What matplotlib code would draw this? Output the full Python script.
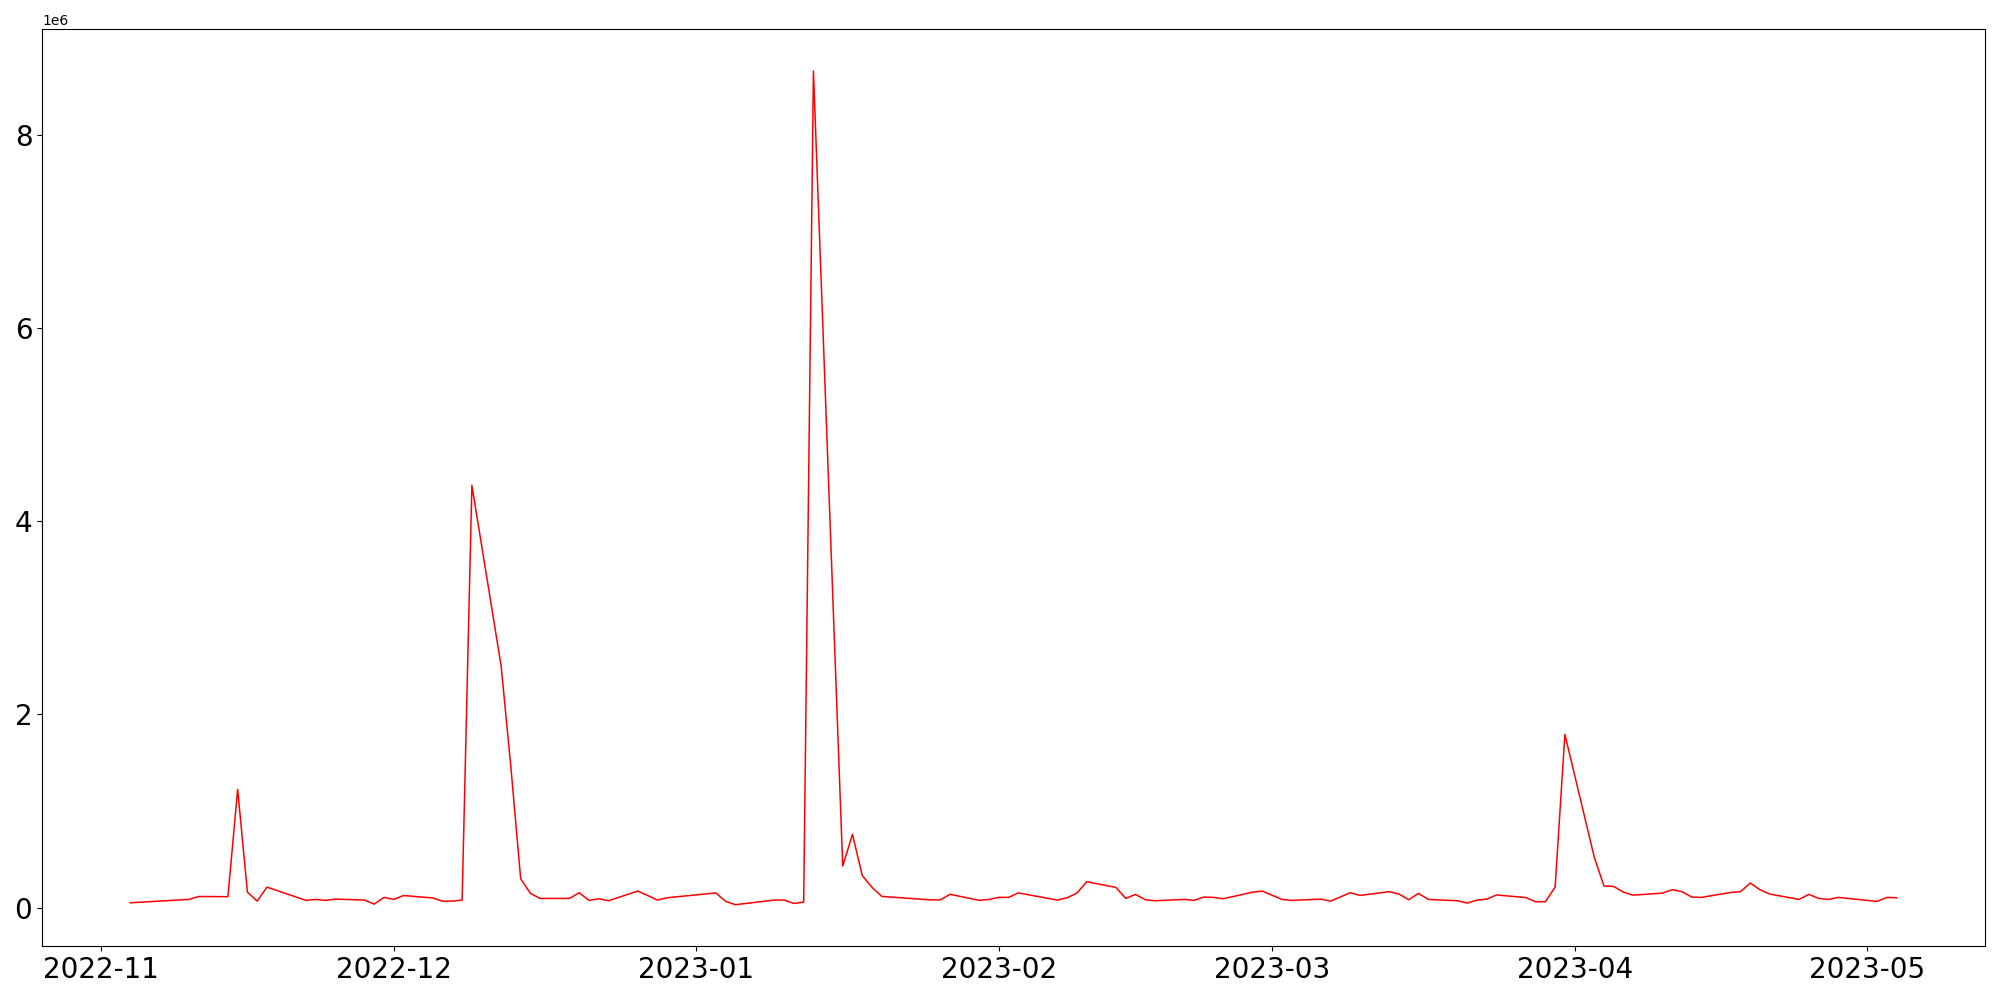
import numpy as np
import pandas as pd
import matplotlib
matplotlib.use("Agg")
import matplotlib.pyplot as plt

# dates (trading days where the line bends) and values in millions
dates = ["2022-11-04", "2022-11-10", "2022-11-11", "2022-11-14", "2022-11-15", "2022-11-16",
         "2022-11-17", "2022-11-18", "2022-11-22", "2022-11-23", "2022-11-24", "2022-11-25",
         "2022-11-28", "2022-11-29", "2022-11-30", "2022-12-01", "2022-12-02", "2022-12-05",
         "2022-12-06", "2022-12-07", "2022-12-08", "2022-12-09", "2022-12-12", "2022-12-13",
         "2022-12-14", "2022-12-15", "2022-12-16", "2022-12-19", "2022-12-20", "2022-12-21",
         "2022-12-22", "2022-12-23", "2022-12-26", "2022-12-27", "2022-12-28", "2022-12-29",
         "2023-01-03", "2023-01-04", "2023-01-05", "2023-01-09", "2023-01-10", "2023-01-11",
         "2023-01-12", "2023-01-13", "2023-01-16", "2023-01-17", "2023-01-18", "2023-01-19",
         "2023-01-20", "2023-01-25", "2023-01-26", "2023-01-27", "2023-01-30", "2023-01-31",
         "2023-02-01", "2023-02-02", "2023-02-03", "2023-02-07", "2023-02-08", "2023-02-09",
         "2023-02-10", "2023-02-13", "2023-02-14", "2023-02-15", "2023-02-16", "2023-02-17",
         "2023-02-20", "2023-02-21", "2023-02-22", "2023-02-23", "2023-02-24", "2023-02-27",
         "2023-02-28", "2023-03-02", "2023-03-03", "2023-03-06", "2023-03-07", "2023-03-09",
         "2023-03-10", "2023-03-13", "2023-03-14", "2023-03-15", "2023-03-16", "2023-03-17",
         "2023-03-20", "2023-03-21", "2023-03-22", "2023-03-23", "2023-03-24", "2023-03-27",
         "2023-03-28", "2023-03-29", "2023-03-30", "2023-03-31", "2023-04-03", "2023-04-04",
         "2023-04-05", "2023-04-06", "2023-04-07", "2023-04-10", "2023-04-11", "2023-04-12",
         "2023-04-13", "2023-04-14", "2023-04-17", "2023-04-18", "2023-04-19", "2023-04-20",
         "2023-04-21", "2023-04-24", "2023-04-25", "2023-04-26", "2023-04-27", "2023-04-28",
         "2023-05-02", "2023-05-03", "2023-05-04"]

valeurs_M = [0.050, 0.085, 0.115, 0.113, 1.224, 0.160,
             0.067, 0.212, 0.075, 0.085, 0.075, 0.088,
             0.078, 0.036, 0.106, 0.085, 0.125, 0.100,
             0.066, 0.068, 0.078, 4.371, 2.500, 1.450,
             0.299, 0.147, 0.095, 0.095, 0.154, 0.075,
             0.092, 0.071, 0.171, 0.126, 0.078, 0.102,
             0.152, 0.065, 0.030, 0.078, 0.078, 0.043,
             0.057, 8.660, 0.430, 0.758, 0.333, 0.210,
             0.116, 0.080, 0.080, 0.138, 0.075, 0.085,
             0.106, 0.106, 0.152, 0.078, 0.102, 0.150,
             0.268, 0.209, 0.095, 0.137, 0.082, 0.071,
             0.085, 0.075, 0.109, 0.106, 0.092, 0.160,
             0.171, 0.085, 0.075, 0.088, 0.067, 0.154,
             0.126, 0.165, 0.140, 0.082, 0.147, 0.085,
             0.071, 0.047, 0.078, 0.088, 0.131, 0.104,
             0.061, 0.061, 0.212, 1.793, 0.527, 0.224,
             0.219, 0.160, 0.129, 0.150, 0.185, 0.165,
             0.109, 0.106, 0.157, 0.165, 0.254, 0.185,
             0.140, 0.085, 0.137, 0.095, 0.085, 0.106,
             0.064, 0.106, 0.102]

x = pd.to_datetime(dates)
y = np.array(valeurs_M) * 1e6

fig = plt.figure(figsize=(20, 10), dpi=100)
ax = fig.add_axes([0.021, 0.0536, 0.9715, 0.9171])
ax.plot(x, y, c="red", linewidth=1.1)
ax.tick_params(axis="both", labelsize=20)

fig.savefig("out.png", dpi=100)
